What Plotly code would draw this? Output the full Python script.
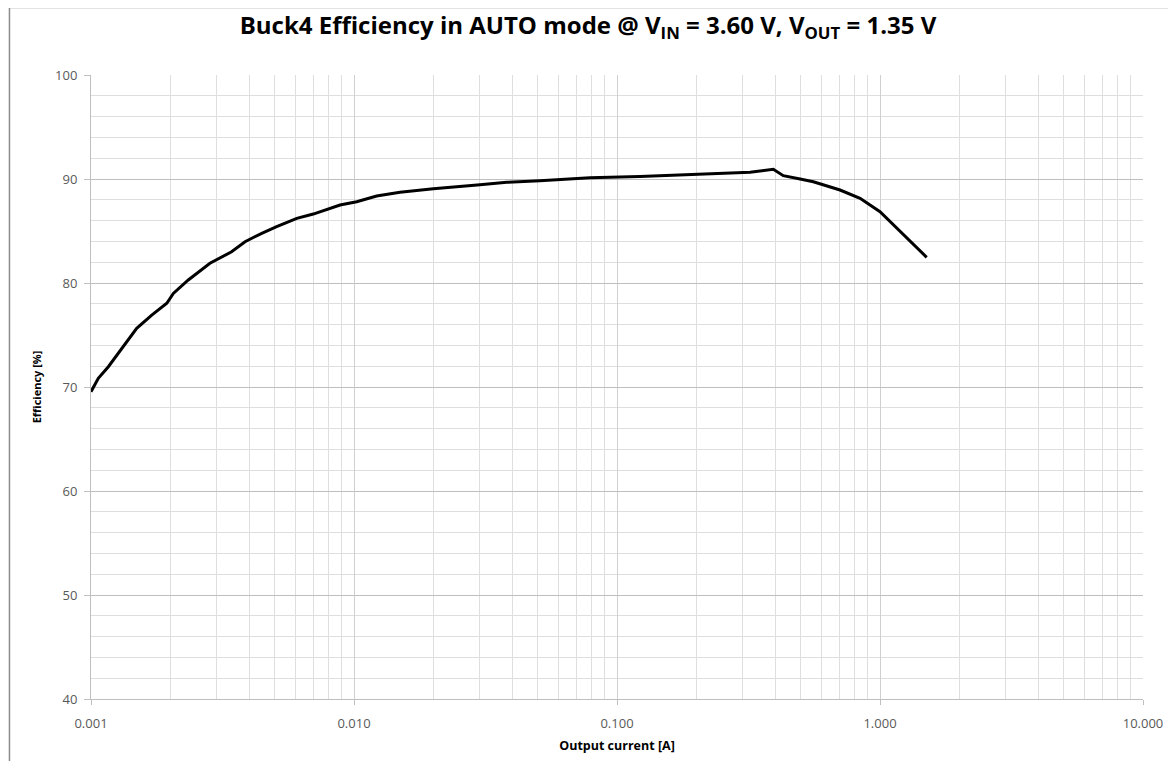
import plotly.graph_objects as go

# Data
current_a = [0.001, 0.001066, 0.001164, 0.001346, 0.001492, 0.001702, 0.001942, 0.002056,
             0.002344, 0.002833, 0.003424, 0.003852, 0.004459, 0.00508, 0.00606, 0.0070,
             0.00885, 0.01024, 0.01219, 0.01496, 0.02003, 0.03015, 0.0381, 0.0509, 0.0789,
             0.1222, 0.207, 0.3206, 0.393, 0.4288, 0.497, 0.5578, 0.7047, 0.8398, 1.0,
             1.092, 1.30, 1.505]
efficiency = [69.55, 70.84, 71.95, 74.04, 75.64, 76.92, 78.05, 79.0,
              80.29, 81.9, 83.0, 83.97, 84.78, 85.41, 86.22, 86.63,
              87.5, 87.82, 88.37, 88.72, 89.07, 89.45, 89.68, 89.84, 90.13,
              90.23, 90.45, 90.64, 90.93, 90.32, 90.0, 89.74, 88.94, 88.14, 86.86,
              85.9, 83.97, 82.47]

x_tickvals = [0.001, 0.01, 0.1, 1, 10]
x_ticktext = ["0.001", "0.010", "0.100", "1.000", "10.000"]
y_tickvals = [40, 50, 60, 70, 80, 90, 100]

minor_x = [m * 10 ** e for e in range(-3, 1) for m in range(2, 10)]
minor_y = [v for v in range(40, 101, 2) if v % 10 != 0]

fig = go.Figure()
fig.add_trace(go.Scatter(
    x=current_a, y=efficiency, mode="lines",
    line=dict(color="black", width=3), showlegend=False,
))

font_family = "Open Sans, Liberation Sans, Arial, sans-serif"

fig.update_layout(
    width=1160, height=753,
    paper_bgcolor="white", plot_bgcolor="white",
    margin=dict(l=83, r=25, t=67, b=62),
    title=dict(
        text="Buck4 Efficiency in AUTO mode @ V<sub>IN</sub> = 3.60 V, V<sub>OUT</sub> = 1.35 V",
        x=0.5, xanchor="center", y=0.977, yanchor="middle",
        font=dict(family=font_family, size=24, color="black", weight="bold"),
    ),
    font=dict(family=font_family),
)

fig.update_xaxes(
    type="log", range=[-3, 1],
    tickvals=x_tickvals, ticktext=x_ticktext,
    tickfont=dict(size=13, color="#595959"),
    ticks="outside", ticklen=5, tickcolor="#bfbfbf",
    ticklabelstandoff=7,
    automargin=False,
    showgrid=True, gridcolor="#d0d0d0", gridwidth=1,
    showline=True, linecolor="#bfbfbf", linewidth=1, mirror=False,
    minor=dict(tickvals=minor_x, showgrid=True, gridcolor="#dedede", gridwidth=1, ticks=""),
    zeroline=False,
    title=dict(text="Output current [A]", standoff=10,
               font=dict(size=12.5, color="black", family=font_family, weight="bold")),
)
fig.update_yaxes(
    range=[40, 100],
    tickvals=y_tickvals,
    tickfont=dict(size=13, color="#595959"),
    ticks="outside", ticklen=6, tickcolor="#bfbfbf",
    ticklabelstandoff=4,
    automargin=False,
    showgrid=True, gridcolor="#bfbfbf", gridwidth=1,
    showline=True, linecolor="#bfbfbf", linewidth=1,
    minor=dict(tickvals=minor_y, showgrid=True, gridcolor="#dedede", gridwidth=1, ticks=""),
    zeroline=False,
    title=dict(text="Efficiency [%]", standoff=11,
               font=dict(size=11, color="black", family=font_family, weight="bold")),
)

# outer chart frame (partly outside the visible page)
fig.add_shape(type="rect", xref="paper", yref="paper",
              x0=-0.0775, x1=1.1, y0=-0.3, y1=1.108,
              line=dict(color="#8c8c8c", width=1.5), fillcolor="rgba(0,0,0,0)", layer="below")

fig.write_html("out.html")
